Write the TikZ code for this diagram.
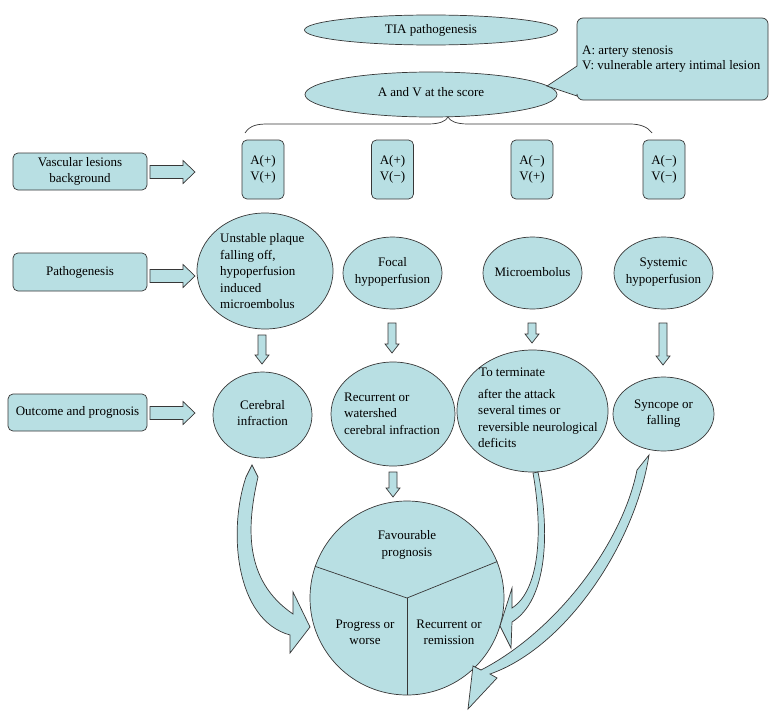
\documentclass[tikz,border=0pt]{standalone}
\usepackage{fontspec}
\setmainfont{Liberation Serif}
\usetikzlibrary{shapes.geometric}
\definecolor{tealfill}{RGB}{184,223,227}
\definecolor{edgegray}{RGB}{55,55,55}
\tikzset{
  shp/.style={draw=edgegray, fill=tealfill, line width=0.7pt, line join=miter},
  ell/.style={shp, ellipse, inner sep=0pt},
  sidebox/.style={shp, rectangle, rounded corners=5pt, inner sep=0pt, font=\fontsize{13}{16.5}\selectfont, align=center},
  txt/.style={inner sep=0pt, font=\fontsize{13}{16.5}\selectfont, align=center},
  ltxt/.style={inner sep=0pt, font=\fontsize{13}{16.5}\selectfont, align=left, anchor=west},
}
\newcommand\darrow[3]{% x, ytop, ybottom
  \draw[shp] ({#1-4},#2) -- ({#1+4},#2) -- ({#1+4},{#3-9}) -- ({#1+7},{#3-9}) -- (#1,#3)
    -- ({#1-7},{#3-9}) -- ({#1-4},{#3-9}) -- cycle;}
\newcommand\rarrow[1]{% y centre
  \draw[shp] (150,{#1-6.5}) -- (183,{#1-6.5}) -- (183,{#1-11.5}) -- (195,#1) -- (183,{#1+11.5})
    -- (183,{#1+6.5}) -- (150,{#1+6.5}) -- cycle;}
\begin{document}
\begin{tikzpicture}[x=1pt,y=-1pt]
\useasboundingbox (0,0) rectangle (776,720);

% top ellipses
\node[ell, minimum width=253, minimum height=30] (tia) at (431,30) {};
\node[txt] (tiat) at (tia.center) {TIA pathogenesis};
\node[ell, minimum width=252, minimum height=45] (avs) at (431,94.5) {};
\node[txt] (avst) at (431,92) {A and V at the score};

% callout
\coordinate (tip) at (547,86);
\draw[shp] (tip) -- (577,66) [rounded corners=6pt] -- (577,18) -- (768,18) -- (768,100) -- (577,100) [sharp corners] -- (577,96) -- cycle;
\node[inner sep=0pt, font=\fontsize{13}{15}\selectfont, align=left, anchor=west] (callt) at (582,59.5)
  {A: artery stenosis\\V: vulnerable artery intimal lesion};

% brace
\draw[edgegray, line width=0.7pt] (245,133) .. controls (250,125) and (258,124) .. (268,124) -- (428,124)
  .. controls (440,124) and (446,121) .. (448,117)
  .. controls (450,121) and (456,124) .. (468,124) -- (630,124)
  .. controls (640,124) and (648,127) .. (652,133);

% left boxes
\node[sidebox, minimum width=134, minimum height=37] (vasc) at (80,171.5) {Vascular lesions\\background};
\node[sidebox, minimum width=134, minimum height=38] (patho) at (80,272) {Pathogenesis};
\node[sidebox, minimum width=139, minimum height=37] (outc) at (77.5,412.5) {Outcome and prognosis};
\rarrow{172}
\rarrow{276}
\rarrow{413}

% A/V boxes
\node[sidebox, minimum width=42, minimum height=59] (av1) at (263,169.5) {A(+)\\V(+)};
\node[sidebox, minimum width=42, minimum height=59] (av2) at (392.5,169.5) {A(+)\\V(−)};
\node[sidebox, minimum width=42, minimum height=59] (av3) at (532,169.5) {A(−)\\V(+)};
\node[sidebox, minimum width=42, minimum height=59] (av4) at (664,169.5) {A(−)\\V(−)};

% pathogenesis ellipses
\node[ell, minimum width=136, minimum height=116] (p1) at (265,271) {};
\node[ltxt] (p1t) at (220,271.5) {Unstable plaque\\falling off,\\hypoperfusion\\induced\\microembolus};
\node[ell, minimum width=99, minimum height=72] (p2) at (392.5,273) {};
\node[txt] (p2t) at (392.5,272) {Focal\\hypoperfusion};
\node[ell, minimum width=99, minimum height=72] (p3) at (532.5,273) {};
\node[txt] (p3t) at (532.5,272) {Microembolus};
\node[ell, minimum width=99, minimum height=72] (p4) at (663.5,273) {};
\node[txt] (p4t) at (663.5,272) {Systemic\\hypoperfusion};

\darrow{262}{335}{364}
\darrow{392}{323}{353}
\darrow{532}{323}{343}
\darrow{663}{323}{365}

% outcome ellipses
\node[ell, minimum width=99, minimum height=86] (o1) at (262.5,415) {};
\node[txt] (o1t) at (262.5,413) {Cerebral\\infraction};
\node[ell, minimum width=124, minimum height=104] (o2) at (393,414) {};
\node[ltxt] (o2t) at (344,413.5) {Recurrent or\\watershed\\cerebral infraction};
\node[ell, minimum width=151, minimum height=122] (o3) at (532.5,411) {};
\node[ltxt] (o3a) at (479,372) {To terminate};
\node[ltxt] (o3b) at (478,418.5) {after the attack\\several times or\\reversible neurological\\deficits};
\node[ell, minimum width=101, minimum height=74] (o4) at (663.5,414) {};
\node[txt] (o4t) at (663.5,413.5) {Syncope or\\falling};

\darrow{393}{472}{497}

% prognosis pie
\node[shp, circle, minimum size=194, inner sep=0pt] (pie) at (407,598) {};
\draw[edgegray, line width=0.7pt] (pie.161) -- (pie.center) -- (pie.22.5);
\draw[edgegray, line width=0.7pt] (pie.center) -- (pie.270);
\node[txt] (fav) at (407,545) {Favourable\\prognosis};
\node[txt] (prog) at (365,632.5) {Progress or\\worse};
\node[txt] (recr) at (449,632.5) {Recurrent or\\remission};

% curved arrows
\draw[shp] (252,465) -- (258,477) .. controls (247,525) and (243,580) .. (293,614) -- (293,592) -- (310,627)
  -- (290,653) -- (290,635) .. controls (235,620) and (228,530) .. (246,477) -- cycle;
\draw[shp] (533,473) -- (538,472) .. controls (550,530) and (548,600) .. (512,622) -- (511,648) -- (500,626)
  -- (512,588) -- (512,608) .. controls (540,590) and (543,530) .. (533,473) -- cycle;
\draw[shp] (649,455) .. controls (635,545) and (565,648) .. (490,674) -- (497,678) -- (468,709) -- (473,666)
  -- (481,670) .. controls (555,632) and (622,545) .. (637,470) -- cycle;
\end{tikzpicture}
\end{document}
